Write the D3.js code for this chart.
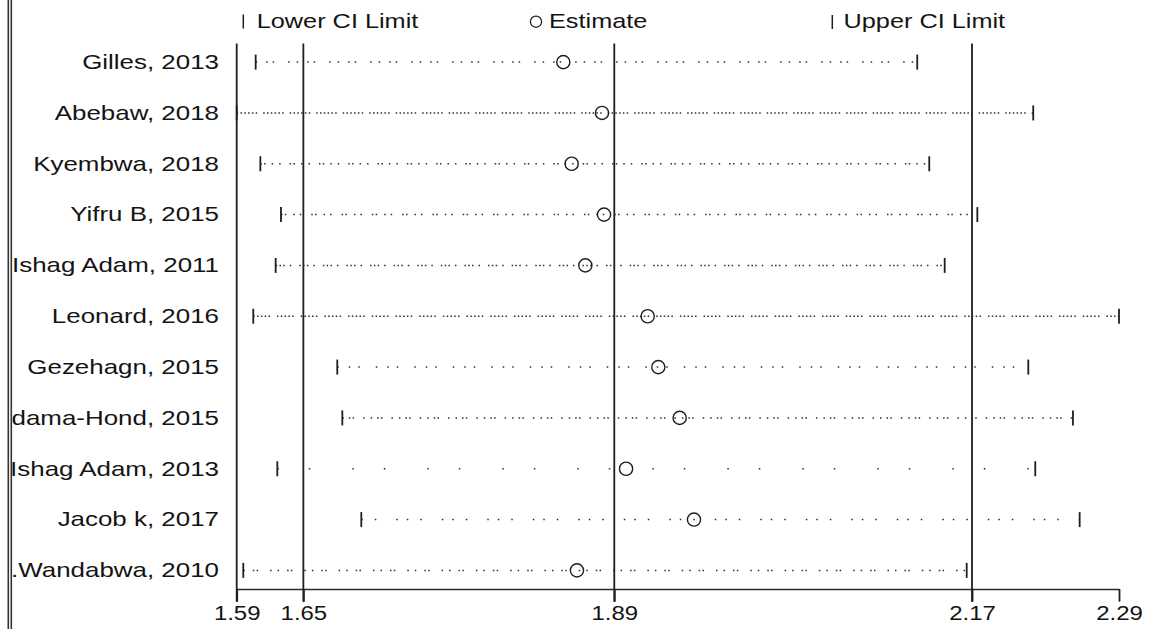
<!DOCTYPE html>
<html>
<head>
<meta charset="utf-8">
<script src="https://cdn.jsdelivr.net/npm/d3@7"></script>
<style>
  html, body { margin: 0; padding: 0; background: #fff; }
  svg { display: block; }
  text { font-family: "Liberation Sans", Arial, sans-serif; fill: #141414; }
</style>
</head>
<body>
<svg id="chart" width="1150" height="629"></svg>
<script>
// Influence analysis: pooled estimate with each study omitted in turn
const studies = [
  "Gilles, 2013", "Abebaw, 2018", "Kyembwa, 2018", "Yifru B, 2015",
  "Ishag Adam, 2011", "Leonard, 2016", "Gezehagn, 2015", "dama-Hond, 2015",
  "Ishag Adam, 2013", "Jacob k, 2017", ".Wandabwa, 2010"
];
const lowerCI = [1.6080, 1.5930, 1.6117, 1.6280, 1.6238, 1.6061, 1.6725, 1.6765, 1.6251, 1.6915, 1.5982];
const estimates = [1.8512, 1.8818, 1.8578, 1.8834, 1.8686, 1.9179, 1.9263, 1.9432, 1.9008, 1.9545, 1.8620];
const upperCI = [2.1310, 2.2227, 2.1405, 2.1785, 2.1527, 2.2905, 2.2188, 2.2541, 2.2243, 2.2594, 2.1701];

// Combined estimate from all studies and its confidence interval
const overallLower = 1.6457;
const overallEstimate = 1.8915;
const overallUpper = 2.1743;

const legendLabels = ["Lower CI Limit", "Estimate", "Upper CI Limit"];

// Dot rhythm of each row's dotted line
const rowDash = [
  "1.5,9,1.5,5,1.5,14,1.5,7",
  "1.5,2.3,1.5,2.3,1.5,2.3,1.5,2.3,1.5,2.3,1.5,6",
  "1.5,2.3,1.5,6,1.5,6,1.5,9",
  "1.5,2.3,1.5,7,1.5,5,1.5,10",
  "1.5,2.3,1.5,2.3,1.5,5,1.5,8",
  "1.5,2.3,1.5,2.3,1.5,2.3,1.5,2.3,1.5,7",
  "1.5,10,1.5,8,1.5,16",
  "1.5,5,1.5,2.3,1.5,9,1.5,6",
  "1.5,30,1.5,42",
  "1.5,12,1.5,20,1.5,9",
  "1.5,8,1.5,2.3,1.5,12,1.5,6"
];

const svg = d3.select("#chart");
const ink = "#1e1e1e";
const plotTop = 43.5, axisY = 589, tickLen = 12.7;

const x = d3.scaleLinear()
  .domain([d3.min(lowerCI), d3.max(upperCI)])
  .range([236.7, 1119]);

const y = d3.scalePoint()
  .domain(studies)
  .range([plotTop, axisY])
  .padding(0.366);

// Horizontally stretched text
function wideText(g, str, px, py, size, sx, anchor) {
  return g.append("text")
    .attr("transform", `translate(${px},${py}) scale(${sx},1)`)
    .attr("font-size", size)
    .attr("text-anchor", anchor)
    .text(str);
}

// Outer frame on the left edge
[8.3, 11.3].forEach(px => {
  svg.append("line")
    .attr("x1", px).attr("x2", px).attr("y1", 0).attr("y2", 629)
    .attr("stroke", "#333").attr("stroke-width", 1.6);
});

// Study labels, clipped at the frame
svg.append("clipPath").attr("id", "labelClip")
  .append("rect").attr("x", 12.2).attr("y", 0).attr("width", 230).attr("height", 629);
const labels = svg.append("g").attr("clip-path", "url(#labelClip)");
studies.forEach(s => wideText(labels, s, 219, y(s) + 6.8, 20.5, 1.265, "end"));

// Reference lines: axis start, overall CI and overall estimate
const refValues = [d3.min(lowerCI), overallLower, overallEstimate, overallUpper];
svg.append("g").selectAll("line").data(refValues).join("line")
  .attr("x1", d => x(d)).attr("x2", d => x(d))
  .attr("y1", plotTop).attr("y2", axisY + tickLen)
  .attr("stroke", ink).attr("stroke-width", 1.8);

// Bottom axis
const tickVals = [d3.min(lowerCI), overallLower, overallEstimate, overallUpper, d3.max(upperCI)];
const fmt = d3.format(".2f");
const axis = svg.append("g")
  .attr("transform", `translate(0,${axisY})`)
  .call(d3.axisBottom(x).tickValues(tickVals).tickSize(tickLen).tickSizeOuter(0).tickFormat(fmt));
axis.select(".domain").attr("stroke", "#2a2a2a").attr("stroke-width", 1.6);
axis.selectAll(".tick line").attr("stroke", ink).attr("stroke-width", 1.8);
axis.selectAll(".tick text").remove();
axis.selectAll(".tick").each(function (d) {
  wideText(d3.select(this), fmt(d), 0, 30.5, 19.5, 1.23, "middle");
});

// Dotted lines between CI limits
const rows = svg.append("g");
studies.forEach((s, i) => {
  rows.append("line")
    .attr("x1", x(lowerCI[i])).attr("x2", x(upperCI[i]))
    .attr("y1", y(s)).attr("y2", y(s))
    .attr("stroke", "#2e2e2e").attr("stroke-width", 1.5)
    .attr("stroke-dasharray", rowDash[i]);
});

// CI limit bars
const bar = (g, px, py, h) => g.append("line")
  .attr("x1", px).attr("x2", px).attr("y1", py - h / 2).attr("y2", py + h / 2)
  .attr("stroke", ink).attr("stroke-width", 1.8);
studies.forEach((s, i) => {
  bar(rows, x(lowerCI[i]), y(s), 15);
  bar(rows, x(upperCI[i]), y(s), 15);
});

// Estimates
rows.selectAll("circle").data(estimates).join("circle")
  .attr("cx", d => x(d))
  .attr("cy", (d, i) => y(studies[i]))
  .attr("r", 6.6)
  .attr("fill", "none").attr("stroke", ink).attr("stroke-width", 1.4);

// Legend
const legend = svg.append("g");
bar(legend, 243.3, 21.5, 14).attr("stroke-width", 1.5);
wideText(legend, legendLabels[0], 256.7, 28.3, 20, 1.265, "start");
legend.append("circle").attr("cx", 536).attr("cy", 21.7).attr("r", 5.6)
  .attr("fill", "none").attr("stroke", ink).attr("stroke-width", 1.3);
wideText(legend, legendLabels[1], 549, 28.3, 20, 1.265, "start");
bar(legend, 832.3, 22, 14).attr("stroke-width", 1.5);
wideText(legend, legendLabels[2], 843.5, 28.3, 20, 1.265, "start");
</script>
</body>
</html>
